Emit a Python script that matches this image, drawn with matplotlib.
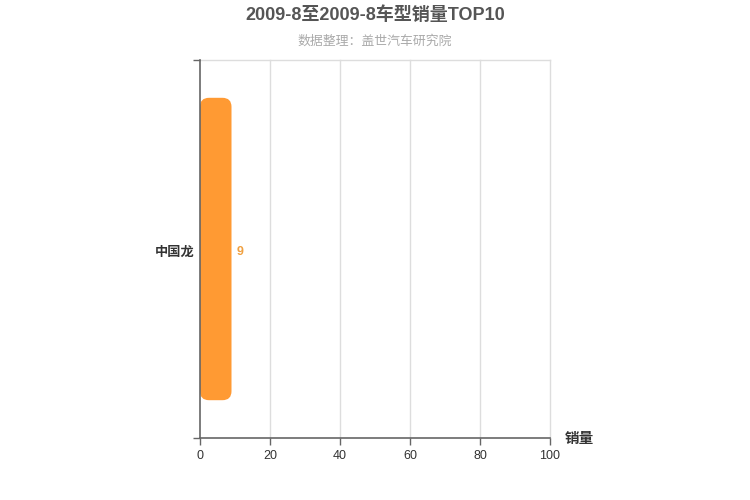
import matplotlib
matplotlib.use("Agg")
import matplotlib.pyplot as plt
from matplotlib.patches import FancyBboxPatch

plt.rcParams['font.family'] = ['Liberation Sans', 'Noto Sans CJK SC', 'DejaVu Sans']

# Daten
models = ["中国龙"]
sales = [9]
xticks = [0, 20, 40, 60, 80, 100]

title = "2009-8至2009-8车型销量TOP10"
subtitle = "数据整理：盖世汽车研究院"
bar_color = "#ff9a33"

fig = plt.figure(figsize=(7.5, 5), dpi=100)
ax = fig.add_axes([200/750, 1 - 438/500, 350/750, 378/500])

ax.set_xlim(0, 100)
ax.set_ylim(-0.5, len(models) - 0.5)

# Balken mit runden Ecken
bars = ax.barh(range(len(models)), sales, height=0.8, color="none")
px_x = 100 / 350.0
px_y = len(models) / 378.0
for b in bars:
    x0, y0 = b.get_x(), b.get_y()
    w, h = b.get_width(), b.get_height()
    patch = FancyBboxPatch((x0, y0), w, h,
                           boxstyle="round,pad=0,rounding_size=%f" % (9 * px_x),
                           mutation_aspect=px_y / px_x,
                           facecolor=bar_color, edgecolor="none", zorder=3)
    patch.set_clip_on(False)
    ax.add_patch(patch)
    ax.text(x0 + w + 5 * px_x, y0 + h / 2 - 3 * px_y, str(int(w)),
            color="#f0a040", fontsize=9, fontweight="bold",
            va="center", ha="left")

# Gitter und Achsen
for xt in xticks[1:]:
    ax.axvline(xt, color="#dddddd", lw=1, zorder=1, clip_on=False)
ax.axhline(len(models) - 0.5, color="#dddddd", lw=1, zorder=1, clip_on=False)

for s in ["top", "right"]:
    ax.spines[s].set_visible(False)
for s in ["left", "bottom"]:
    ax.spines[s].set_color("#666666")
    ax.spines[s].set_linewidth(1.2)
    ax.spines[s].set_zorder(4)

ax.set_xticks(xticks)
ax.tick_params(axis="x", colors="#666666", labelcolor="#333333", labelsize=9,
               length=5, width=1)
ax.set_yticks([-0.5 + i for i in range(len(models) + 1)])
ax.set_yticklabels([])
ax.tick_params(axis="y", which="major", colors="#666666", length=5, width=1)
ax.set_yticks([i - 2 * px_y for i in range(len(models))], minor=True)
ax.set_yticklabels(models, minor=True)
ax.tick_params(axis="y", which="minor", length=0, pad=4, labelsize=9.5,
               labelcolor="#333333")
for lbl in ax.get_yticklabels(minor=True):
    lbl.set_fontweight("bold")

fig.text(565/750, 1 - 439/500, "销量", fontsize=10.5, fontweight="bold",
         color="#333333", ha="left", va="center")

fig.text(0.5, 1 - 15/500, title, fontsize=13, fontweight="bold",
         color="#555555", ha="center", va="center")
fig.text(0.5, 1 - 41/500, subtitle, fontsize=9.3, color="#aaaaaa",
         ha="center", va="center")

fig.savefig("out.png", dpi=100)
